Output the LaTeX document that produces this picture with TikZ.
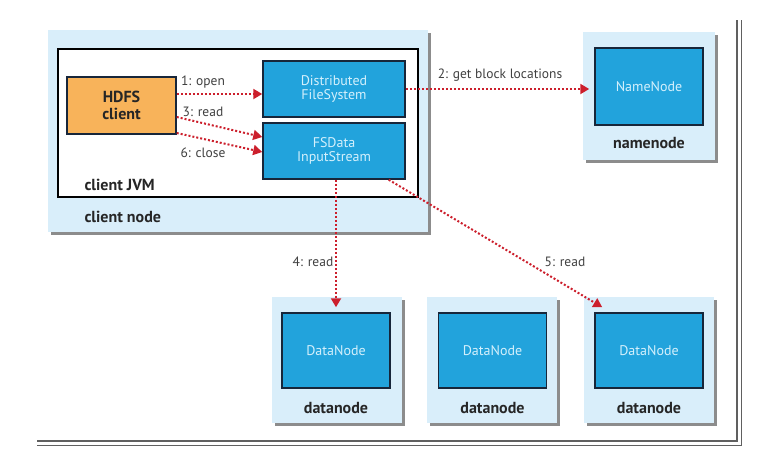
\documentclass[tikz,border=0pt]{standalone}
\usepackage{fontspec}
\setmainfont{PT Sans}
\usetikzlibrary{arrows.meta,shadows}
\begin{document}
\begin{tikzpicture}[x=1pt,y=-1pt,
  host/.style={fill=hostblue,draw=none,minimum width=#1,
    drop shadow={shadow xshift=2.5pt,shadow yshift=-2.5pt,fill=black!45,opacity=1}},
  jvm/.style={fill=white,draw=black,line width=1.5pt},
  proc/.style={fill=procblue,draw=boxline,line width=1.5pt,text=proctext,
    font=\fontsize{14}{14}\selectfont,align=center,inner sep=0pt},
  hostlabel/.style={text=black!85,font=\bfseries\fontsize{16}{16}\selectfont},
  steplabel/.style={text=black!75,font=\fontsize{13.5}{13.5}\selectfont},
  flow/.style={draw=flowred,dotted,line width=2pt,
    -{Triangle[length=9pt,width=10pt,fill=flowred]}}]
\definecolor{hostblue}{HTML}{D9EEFA}
\definecolor{procblue}{HTML}{22A3DC}
\definecolor{proctext}{HTML}{D4F0FC}
\definecolor{boxline}{HTML}{17263A}
\definecolor{clientorange}{HTML}{F8B35A}
\definecolor{flowred}{HTML}{CC1F2C}
\definecolor{framegray}{HTML}{606060}
\useasboundingbox (0,0) rectangle (759,475);
\draw[framegray,line width=1.5pt] (37,441) -- (737,441) -- (737,20);
\draw[framegray,line width=1.5pt] (37,445.5) -- (741.5,445.5) -- (741.5,20);
\node[host=380pt,minimum height=202pt] (clienthost) at (238,131) {};
\node[jvm,minimum width=360pt,minimum height=148pt] (jvmbox) at (238,123) {};
\node[fill=clientorange,draw=boxline,line width=1.5pt,minimum width=109pt,minimum height=57pt,
  align=center,text=black!85,font=\bfseries\fontsize{16}{17}\selectfont] (hdfs) at (121.5,105.5) {HDFS\\client};
\node[proc,minimum width=142pt,minimum height=56pt] (dfs) at (334,89) {Distributed\\FileSystem};
\node[proc,minimum width=142pt,minimum height=56pt] (fsdata) at (334,151) {FSData\\InputStream};
\node[hostlabel,anchor=west] (jvmlabel) at (81,185) {client JVM};
\node[hostlabel,anchor=west] (clientlabel) at (81,217) {client node};
\node[host=132pt,minimum height=128pt] (namehost) at (649,96) {};
\node[proc,minimum width=108pt,minimum height=77pt] (nn) at (649,86.5) {NameNode};
\node[hostlabel] (namelabel) at (649,143) {namenode};
\node[host=130pt,minimum height=126pt] (datahost1) at (337,360) {};
\node[host=130pt,minimum height=126pt] (datahost2) at (492,360) {};
\node[host=130pt,minimum height=126pt] (datahost3) at (649,360) {};
\node[proc,minimum width=108pt,minimum height=75pt] (dn1) at (336,350.5) {DataNode};
\node[proc,minimum width=108pt,minimum height=75pt] (dn2) at (492.5,350.5) {DataNode};
\node[proc,minimum width=108pt,minimum height=75pt] (dn3) at (649,350.5) {DataNode};
\node[hostlabel] (datalabel1) at (336,408) {datanode};
\node[hostlabel] (datalabel2) at (492.5,408) {datanode};
\node[hostlabel] (datalabel3) at (649,408) {datanode};
\draw[flow] ([yshift=11.5pt]hdfs.east) -- ([yshift=-5pt]dfs.west);
\draw[flow] ([yshift=-11.5pt]hdfs.east) -- ([yshift=14pt]fsdata.west);
\draw[flow] ([yshift=-27.5pt]hdfs.east) -- ([yshift=-1pt]fsdata.west);
\draw[flow,shorten >=5pt] (dfs.east) -- (dfs.east -| nn.west);
\draw[flow,shorten >=5pt] ([xshift=2pt]fsdata.south) -- ([xshift=2pt]fsdata.south |- dn1.north);
\draw[flow] ([xshift=-17pt]fsdata.south east) -- ([xshift=8pt,yshift=5pt]dn3.north west);
\node[steplabel] (openlabel) at (203,82) {1: open};
\node[steplabel] (readlabel) at (203,112) {3: read};
\node[steplabel] (closelabel) at (203,153) {6: close};
\node[steplabel] (getlabel) at (500,75) {2: get block locations};
\node[steplabel] (readlabel4) at (313,262) {4: read};
\node[steplabel] (readlabel5) at (565,262) {5: read};
\end{tikzpicture}
\end{document}
